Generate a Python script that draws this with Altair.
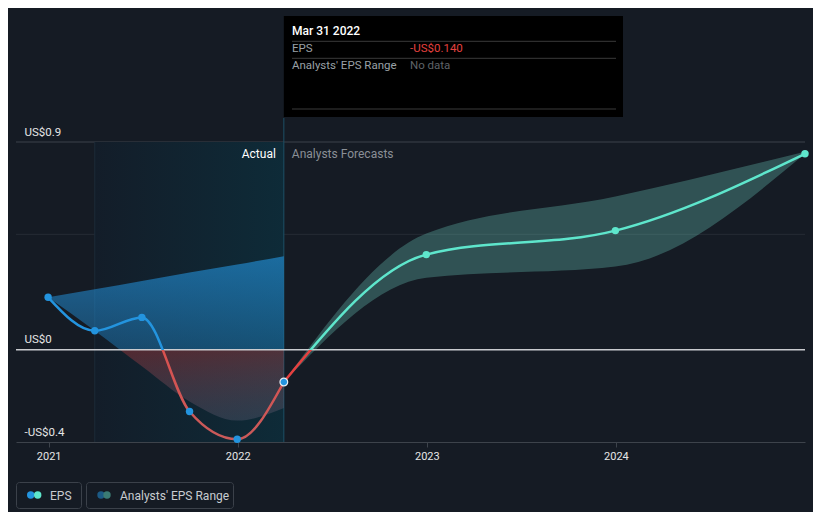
import altair as alt
import pandas as pd

# ---------------- data ----------------
actual_dates = ["2020-12-31T00:00:00", "2021-03-31T00:00:00", "2021-06-30T00:00:00",
                "2021-09-30T00:00:00", "2021-12-31T00:00:00", "2022-03-31T00:00:00"]
actual_eps = [0.227, 0.082, 0.140, -0.268, -0.388, -0.140]
past_range_high = [0.227, 0.262, 0.298, 0.334, 0.369, 0.405]
past_range_low = [0.227, 0.082, -0.072, -0.224, -0.307, -0.253]

forecast_dates = ["2022-03-31T00:00:00", "2022-12-31T00:00:00", "2023-12-31T00:00:00", "2024-12-31T00:00:00"]
forecast_eps = [-0.140, 0.412, 0.516, 0.849]
forecast_high = [-0.140, 0.503, 0.664, 0.858]
forecast_low = [-0.140, 0.312, 0.360, 0.849]

year_ticks = [2021, 2022, 2023, 2024]
y_label_values = [-0.4, 0.0, 0.9]
grid_values = [0.9, 0.5]
x_domain = ["2020-10-30T00:00:00", "2024-12-31T00:00:00"]
y_domain = [-0.4, 0.9]

tooltip_date = "Mar 31 2022"
tooltip_eps = actual_eps[-1]

# ---------------- colors ----------------
BG = "#151b24"
BLUE = "#2394df"
RED = "#e5403f"
TEAL = "#5ee6cc"
FONT = "Roboto"

actual_df = pd.DataFrame({"date": actual_dates, "eps": actual_eps,
                          "hi": past_range_high, "lo": past_range_low})
fc_df = pd.DataFrame({"date": forecast_dates, "eps": forecast_eps,
                      "hi": forecast_high, "lo": forecast_low})

xs = alt.Scale(domain=x_domain)
ys = alt.Scale(domain=y_domain, nice=False, zero=False)

x_axis = alt.Axis(values=[alt.DateTime(year=y, month=1, date=1) for y in year_ticks],
                  format="%Y", title=None, grid=False, domainColor="#3d434b",
                  tickColor="#3d434b", tickSize=5, labelColor="#e6e6e6",
                  labelFontSize=11, labelPadding=3, labelFlush=False, labelFont=FONT)
y_axis = alt.Axis(values=y_label_values, title=None, grid=False, domain=False, ticks=False,
                  labelAlign="left", labelPadding=-8, labelBaseline="alphabetic",
                  labelOffset=-7, labelColor="#e6e6e6", labelFontSize=11.5,
                  labelOverlap=False, labelFont=FONT,
                  labelExpr="datum.value < 0 ? '-US$' + format(abs(datum.value), '.1~f') : 'US$' + format(datum.value, '.1~f')")


def X(field):
    return alt.X(field, type="temporal", scale=xs, axis=x_axis)


def Y(field):
    return alt.Y(field, type="quantitative", scale=ys, axis=y_axis)


def XD(year, month, day):
    return alt.X(datum=alt.DateTime(year=year, month=month, date=day), type="temporal", scale=xs, axis=x_axis)


def YD(v):
    return alt.Y(datum=v, type="quantitative", scale=ys, axis=y_axis)


one = pd.DataFrame({"k": [0]})

# grid lines
grid_df = pd.DataFrame({"v": grid_values, "c": ["#3d434b", "#262c35"]})
grid = alt.Chart(grid_df).mark_rule(strokeWidth=1).encode(
    y=Y("v"), color=alt.Color("c:N", scale=None))

# shaded "actual" region
shade = alt.Chart(one).mark_rect(
    fill=alt.LinearGradient(gradient="linear", x1=0, x2=1, y1=0, y2=0,
                            stops=[alt.GradientStop(color="#131d29", offset=0),
                                   alt.GradientStop(color="#0e2b38", offset=1)])
).encode(x=XD(2021, 3, 31), x2=alt.X2(datum=alt.DateTime(year=2022, month=3, date=31)),
         y=YD(y_domain[1]), y2=alt.Y2(datum=y_domain[0]))

shade_left = alt.Chart(one).mark_rule(color="#1c2b38", strokeWidth=1).encode(
    x=XD(2021, 3, 31), y=YD(y_domain[1]), y2=alt.Y2(datum=y_domain[0]))

now_rule = alt.Chart(one).mark_rule(color="#1d5066", strokeWidth=1).encode(
    x=XD(2022, 3, 31), y=alt.value(-24), y2=alt.value(300))

# past range area, blue above zero / red below
p_top = max(past_range_high)
p_bot = min(past_range_low)
p_off = p_top / (p_top - p_bot)
past_area = alt.Chart(actual_df).mark_area(
    interpolate="monotone",
    fill=alt.LinearGradient(gradient="linear", x1=0, x2=0, y1=0, y2=1, stops=[
        alt.GradientStop(color="rgba(35,148,223,0.62)", offset=0),
        alt.GradientStop(color="rgba(35,148,223,0.36)", offset=p_off),
        alt.GradientStop(color="rgba(229,64,63,0.30)", offset=p_off),
        alt.GradientStop(color="rgba(160,140,170,0.20)", offset=1)])
).encode(x=X("date"), y=Y("hi"), y2="lo")

# forecast range band
fc_band = alt.Chart(fc_df).mark_area(interpolate="monotone", color="#6fd3c4", opacity=0.3).encode(
    x=X("date"), y=Y("hi"), y2="lo")

zero_rule = alt.Chart(one).mark_rule(color="#c9cbcf", strokeWidth=1.5).encode(y=YD(0))

# EPS lines
a_off = max(actual_eps) / (max(actual_eps) - min(actual_eps))
actual_line = alt.Chart(actual_df).mark_line(
    interpolate="monotone", strokeWidth=2.5,
    stroke=alt.LinearGradient(gradient="linear", x1=0, x2=0, y1=0, y2=1, stops=[
        alt.GradientStop(color=BLUE, offset=0),
        alt.GradientStop(color=BLUE, offset=a_off),
        alt.GradientStop(color="#d9514f", offset=a_off),
        alt.GradientStop(color="#c95a5a", offset=1)])
).encode(x=X("date"), y=Y("eps"))

f_off = max(forecast_eps) / (max(forecast_eps) - min(forecast_eps))
fc_line = alt.Chart(fc_df).mark_line(
    interpolate="monotone", strokeWidth=2.5,
    stroke=alt.LinearGradient(gradient="linear", x1=0, x2=0, y1=0, y2=1, stops=[
        alt.GradientStop(color=TEAL, offset=0),
        alt.GradientStop(color=TEAL, offset=f_off),
        alt.GradientStop(color=RED, offset=f_off),
        alt.GradientStop(color=RED, offset=1)])
).encode(x=X("date"), y=Y("eps"))

actual_pts = alt.Chart(actual_df.iloc[:-1]).mark_circle(size=55, color=BLUE, opacity=1).encode(
    x=X("date"), y=Y("eps"))
last_pt = alt.Chart(actual_df.iloc[-1:]).mark_point(
    size=60, filled=True, fill=BLUE, stroke="#e8eef3", strokeWidth=1.2, opacity=1).encode(
    x=X("date"), y=Y("eps"))
fc_pts = alt.Chart(fc_df.iloc[1:]).mark_circle(size=55, color=TEAL, opacity=1).encode(
    x=X("date"), y=Y("eps"))

# annotations
actual_txt = alt.Chart(one).mark_text(text="Actual", align="right", baseline="middle", dx=-8, dy=12,
                                      color="#ffffff", fontSize=12, font=FONT).encode(
    x=XD(2022, 3, 31), y=YD(y_domain[1]))
fc_txt = alt.Chart(one).mark_text(text="Analysts Forecasts", align="left", baseline="middle", dx=8, dy=12,
                                  color="#8a8f96", fontSize=12, font=FONT).encode(
    x=XD(2022, 3, 31), y=YD(y_domain[1]))

# tooltip box
tip_box = alt.Chart(one).mark_rect(color="#000000").encode(
    x=XD(2022, 3, 31), x2=alt.value(607), y=alt.value(-126), y2=alt.value(-25))
tip_lines_df = pd.DataFrame({"y": [-100.7, -83.7, -33]})
tip_lines = alt.Chart(tip_lines_df).mark_rule(color="#3a3a3a", strokeWidth=1).encode(
    x=alt.value(276), x2=alt.value(600), y=alt.Y("y:Q", scale=None))
tip_texts_df = pd.DataFrame({
    "t": [tooltip_date, "EPS", f"-US${abs(tooltip_eps):.3f}", "Analysts' EPS Range", "No data"],
    "x": [276, 276, 394, 276, 394],
    "y": [-111, -93.5, -93.5, -76, -76],
    "c": ["#ffffff", "#9aa0a6", "#e5403f", "#9aa0a6", "#5f6368"],
})
tip_title = alt.Chart(tip_texts_df.iloc[:1]).mark_text(align="left", baseline="middle", fontSize=12,
                                                      fontWeight=500, font=FONT).encode(
    x=alt.X("x:Q", scale=None), y=alt.Y("y:Q", scale=None), text="t:N", color=alt.Color("c:N", scale=None))
tip_rows = alt.Chart(tip_texts_df.iloc[1:]).mark_text(align="left", baseline="middle", fontSize=11.5,
                                                     font=FONT).encode(
    x=alt.X("x:Q", scale=None), y=alt.Y("y:Q", scale=None), text="t:N", color=alt.Color("c:N", scale=None))

# legend
leg_boxes_df = pd.DataFrame({"x": [0.5, 70.5], "x2": [65.5, 217.5]})
leg_boxes = alt.Chart(leg_boxes_df).mark_rect(fill="transparent", stroke="#3b414a", strokeWidth=1,
                                               cornerRadius=3).encode(
    x=alt.X("x:Q", scale=None), x2="x2:Q", y=alt.value(340.5), y2=alt.value(366.5))
leg_dots_df = pd.DataFrame({"x": [14.7, 21.7, 85, 91],
                            "c": [BLUE, TEAL, "#1c5a85", "#3b7b74"]})
leg_dots = alt.Chart(leg_dots_df).mark_circle(size=55, opacity=1).encode(
    x=alt.X("x:Q", scale=None), y=alt.value(353), color=alt.Color("c:N", scale=None))
leg_txt_df = pd.DataFrame({"x": [34, 104], "t": ["EPS", "Analysts' EPS Range"]})
leg_txt = alt.Chart(leg_txt_df).mark_text(align="left", baseline="middle", fontSize=12,
                                          color="#c8ccd0", font=FONT).encode(
    x=alt.X("x:Q", scale=None), y=alt.value(353.5), text="t:N")

chart = alt.layer(
    grid, shade, shade_left, now_rule, past_area, fc_band, zero_rule,
    actual_line, fc_line, actual_pts, last_pt, fc_pts,
    actual_txt, fc_txt, tip_box, tip_lines, tip_title, tip_rows,
    leg_boxes, leg_dots, leg_txt
).properties(
    width=789, height=300,
    autosize=alt.AutoSizeParams(type="none"),
    padding={"left": 8, "top": 134, "right": 8, "bottom": 70},
    background=BG,
).configure(font=FONT).configure_view(strokeWidth=0, stroke="transparent")

chart.save("out.html", embed_options={"renderer": "svg", "actions": False})
